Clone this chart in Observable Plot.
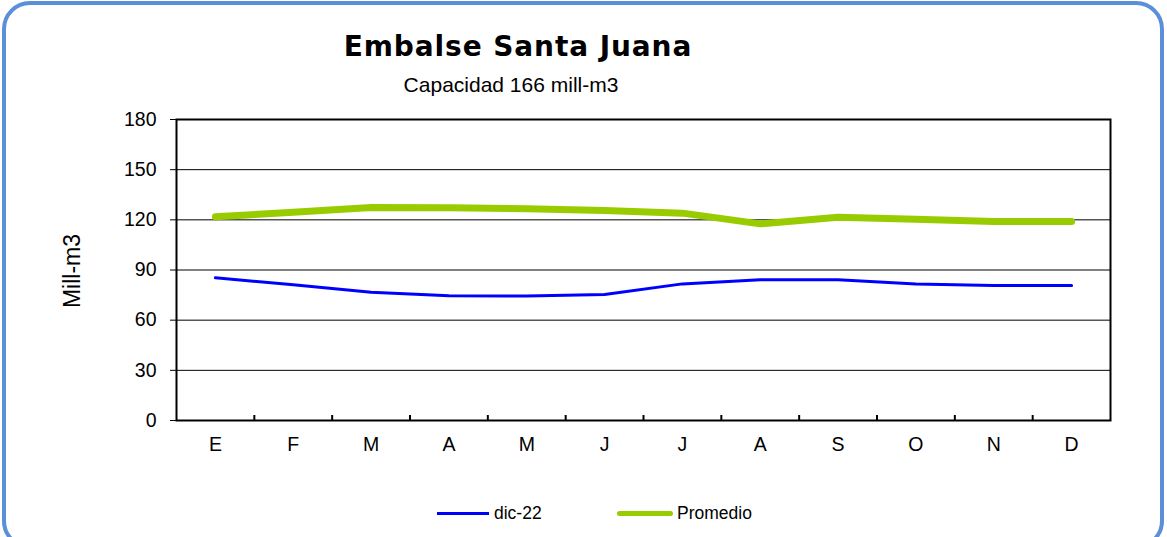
<!DOCTYPE html>
<html>
<head>
<meta charset="utf-8">
<script src="https://cdn.jsdelivr.net/npm/d3@7"></script>
<script src="https://cdn.jsdelivr.net/npm/@observablehq/plot@0.6"></script>
<style>
  html, body { margin: 0; padding: 0; background: #fff; overflow: hidden; }
  #wrap { position: relative; width: 1167px; height: 537px; overflow: hidden; font-family: "Liberation Sans", Arial, sans-serif; }
  #border { position: absolute; left: 2px; top: 1px; width: 1162px; height: 548px; border: 4px solid #5B8FD8; border-radius: 28px; box-sizing: border-box; }
  #chart { position: absolute; left: 0; top: 0; }
  .txt { position: absolute; white-space: nowrap; color: #000; }
  #title { left: 0; width: 1036px; text-align: center; top: 31px; font-family: "DejaVu Sans", Verdana, sans-serif; font-weight: bold; font-size: 28px; line-height: 32px; letter-spacing: 0.9px; }
  #subtitle { left: 0; width: 1022px; text-align: center; top: 73px; font-size: 21px; line-height: 24px; }
  #ylabel { left: 72px; top: 271px; font-size: 23px; line-height: 24px; transform: translate(-50%, -50%) rotate(-90deg); }
  .leg { position: absolute; font-size: 17.5px; line-height: 20px; top: 503px; }
  .legline { position: absolute; }
</style>
</head>
<body>
<div id="wrap">
  <div id="chart"></div>
  <div id="border"></div>
  <div id="title" class="txt">Embalse Santa Juana</div>
  <div id="subtitle" class="txt">Capacidad 166 mill-m3</div>
  <div id="ylabel" class="txt">Mill-m3</div>
  <div class="legline" style="left:437px; top:511.5px; width:52px; height:3px; background:#0000FF;"></div>
  <div class="leg" style="left:494px;">dic-22</div>
  <div class="legline" style="left:617px; top:510.5px; width:56px; height:5px; background:#99CC00; border-radius:2.5px;"></div>
  <div class="leg" style="left:677px;">Promedio</div>
</div>
<script>
const months = ["E","F","M","A","M","J","J","A","S","O","N","D"];
const dic22 = [85.3, 81.2, 76.7, 74.6, 74.4, 75.4, 81.7, 84.1, 84.1, 81.7, 80.7, 80.7];
const promedio = [121.8, 124.6, 127.4, 127.2, 126.6, 125.6, 124.0, 117.6, 121.6, 120.4, 119.0, 119.0];
const yTicks = [0, 30, 60, 90, 120, 150, 180];

const serie = months.map((m, i) => ({i, pos: i + 0.5, month: m, dic: dic22[i], prom: promedio[i]}));
const bounds = d3.range(1, months.length);

const W = 1167, H = 537, mt = 119, mb = 117, ml = 176, mr = 57;
const innerH = H - mt - mb;

const chart = Plot.plot({
  width: W,
  height: H,
  marginTop: mt,
  marginBottom: mb,
  marginLeft: ml,
  marginRight: mr,
  style: {fontFamily: '"Liberation Sans", Arial, sans-serif', fontSize: "19.5px", color: "#000", background: "transparent"},
  x: {type: "linear", domain: [0, months.length]},
  y: {domain: [0, 180]},
  marks: [
    Plot.gridY(yTicks.slice(1, -1), {stroke: "#000", strokeOpacity: 1, strokeWidth: 1}),
    Plot.axisY(yTicks, {tickSize: 6, tickPadding: 14, label: null, stroke: "#000", strokeWidth: 1}),
    Plot.axisX(serie.map(d => d.pos), {tickSize: 0, tickPadding: 17, label: null, tickFormat: (d) => months[Math.floor(d)], fontSize: "19.5px"}),
    Plot.tickX(bounds, {x: d => d, stroke: "#000", strokeWidth: 2, insetTop: innerH - 5}),
    Plot.line(serie, {x: "pos", y: "dic", stroke: "#0000FF", strokeWidth: 3, strokeLinejoin: "round", strokeLinecap: "round"}),
    Plot.line(serie, {x: "pos", y: "prom", stroke: "#99CC00", strokeWidth: 7, strokeLinejoin: "round", strokeLinecap: "round"}),
    Plot.frame({stroke: "#000", strokeWidth: 2})
  ]
});
document.getElementById("chart").appendChild(chart);
</script>
</body>
</html>
